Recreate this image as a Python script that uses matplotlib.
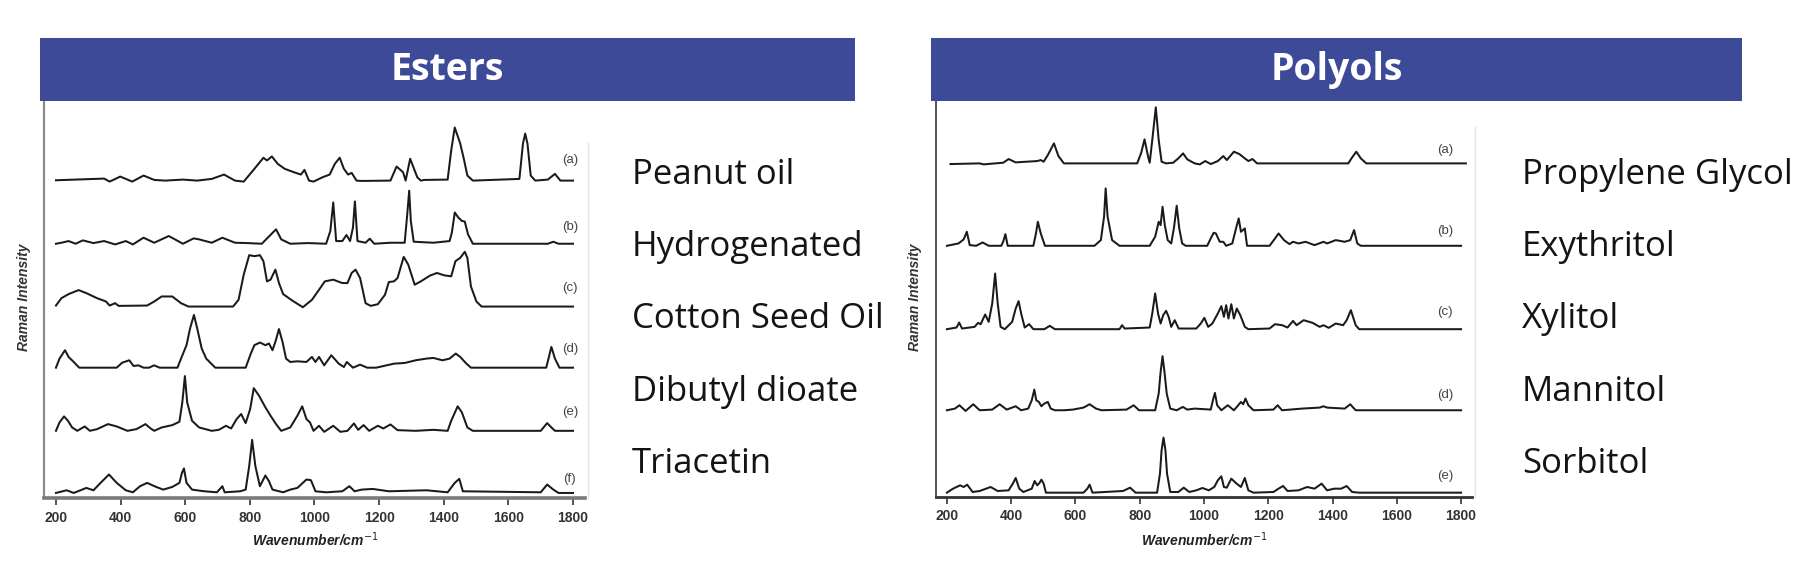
import matplotlib
matplotlib.use("Agg")
import matplotlib.pyplot as plt
from matplotlib.patches import Rectangle
from matplotlib.lines import Line2D

W, H = 1806, 574

# ---------------- data (wavenumber, relative intensity) ----------------
ester_names = ["Peanut oil", "Hydrogenated", "Cotton Seed Oil", "Dibutyl dioate", "Triacetin"]
ester_tags = ["(a)", "(b)", "(c)", "(d)", "(e)", "(f)"]
ester_offsets = [945, 757, 570, 388, 200, 15]

ester_a = [(200,1),(349,6),(366,-3),(399,12),(436,-3),(471,15),(504,2),(538,0),(593,3),(637,0),(682,5),(720,18),(754,0),(781,-3),(814,35),(842,68),(853,60),(868,72),(886,50),(908,35),(936,25),(958,18),(969,32),(983,0),(997,-3),(1025,10),(1047,18),(1063,50),(1078,68),(1091,35),(1104,18),(1115,23),(1130,0),(1146,-1),(1235,0),(1254,42),(1274,25),(1282,0),(1296,65),(1318,10),(1329,0),(1340,2),(1412,3),(1423,90),(1434,158),(1451,110),(1462,65),(1473,15),(1490,0),(1634,5),(1645,110),(1652,140),(1659,110),(1669,15),(1683,0),(1722,3),(1744,20),(1761,0),(1800,0)]
ester_b = [(200,0),(217,3),(239,8),(261,0),(283,10),(316,2),(349,8),(383,-2),(416,8),(438,-2),(471,18),(504,3),(549,23),(593,0),(626,16),(643,13),(682,3),(715,18),(754,3),(792,2),(837,0),(881,43),(897,13),(925,0),(980,2),(1036,0),(1049,38),(1058,123),(1067,8),(1086,8),(1099,26),(1110,8),(1119,48),(1125,126),(1133,8),(1158,3),(1171,15),(1185,0),(1235,3),(1279,3),(1287,88),(1293,158),(1298,68),(1307,6),(1368,3),(1418,8),(1425,33),(1434,93),(1445,78),(1456,68),(1465,66),(1475,28),(1490,0),(1722,0),(1739,6),(1755,0),(1800,0)]
ester_c = [(200,3),(217,25),(239,37),(270,49),(294,40),(327,25),(355,15),(366,3),(383,10),(394,2),(482,3),(504,15),(527,30),(560,30),(587,10),(610,0),(748,0),(765,20),(781,95),(798,153),(814,150),(831,153),(842,135),(853,75),(864,80),(879,110),(890,70),(903,37),(931,18),(964,-2),(992,20),(1014,50),(1032,75),(1058,80),(1086,70),(1102,70),(1115,100),(1127,110),(1141,85),(1158,10),(1174,2),(1196,7),(1218,35),(1230,73),(1246,75),(1257,85),(1276,148),(1290,125),(1310,65),(1329,75),(1357,92),(1379,100),(1401,93),(1423,90),(1436,135),(1451,145),(1465,163),(1473,145),(1484,60),(1501,15),(1517,0),(1800,0)]
ester_d = [(200,0),(211,27),(228,52),(239,32),(255,17),(272,0),(388,0),(405,15),(427,22),(440,5),(455,7),(471,0),(488,0),(504,7),(521,0),(576,0),(587,27),(604,67),(615,117),(627,157),(637,117),(651,57),(665,27),(693,0),(787,0),(803,42),(814,67),(831,75),(848,67),(859,72),(870,52),(879,77),(890,115),(901,77),(912,27),(925,17),(947,19),(975,17),(992,32),(1003,17),(1014,32),(1030,7),(1052,37),(1075,12),(1091,2),(1100,17),(1119,0),(1141,9),(1163,0),(1191,0),(1246,12),(1279,14),(1313,22),(1346,27),(1368,29),(1396,22),(1418,27),(1437,42),(1451,32),(1468,14),(1484,0),(1717,0),(1724,27),(1733,62),(1744,27),(1758,0),(1800,0)]
ester_e = [(200,0),(211,25),(225,43),(237,30),(250,10),(266,0),(289,13),(305,0),(327,5),(361,20),(388,13),(421,0),(449,5),(477,20),(493,7),(504,0),(527,10),(560,17),(582,27),(591,85),(599,163),(606,85),(621,30),(643,10),(682,0),(704,3),(726,15),(742,7),(759,35),(773,50),(787,23),(801,65),(812,127),(828,105),(848,70),(864,45),(881,20),(897,0),(925,10),(947,45),(962,73),(975,35),(986,25),(997,0),(1014,15),(1030,-3),(1058,15),(1080,-3),(1102,0),(1122,22),(1135,3),(1152,17),(1169,0),(1196,15),(1213,7),(1235,19),(1257,2),(1313,0),(1368,3),(1412,0),(1423,30),(1443,73),(1456,55),(1473,10),(1490,0),(1700,0),(1720,23),(1733,10),(1744,0),(1800,0)]
ester_f = [(200,0),(233,8),(255,0),(294,15),(316,8),(338,30),(364,55),(388,30),(416,8),(438,2),(460,20),(482,30),(510,18),(532,10),(560,18),(582,30),(590,60),(596,73),(604,30),(621,10),(659,5),(698,2),(715,20),(722,2),(770,5),(787,10),(798,80),(807,158),(817,80),(831,20),(848,52),(859,35),(870,10),(903,2),(925,10),(947,15),(975,40),(989,38),(1003,5),(1036,2),(1086,5),(1108,20),(1124,5),(1146,10),(1180,12),(1230,5),(1346,8),(1412,2),(1434,30),(1448,42),(1459,5),(1700,2),(1720,25),(1739,10),(1755,0),(1800,0)]
ester_tag_heights = [60, 50, 55, 57, 57, 42]

polyol_names = ["Propylene Glycol", "Exythritol", "Xylitol", "Mannitol", "Sorbitol"]
polyol_tags = ["(a)", "(b)", "(c)", "(d)", "(e)"]
polyol_offsets = [1000, 753, 503, 260, 13]

polyol_a = [(211,-2),(302,0),(314,-3),(375,2),(392,13),(414,3),(481,7),(492,10),(501,5),(514,25),(533,60),(547,22),(564,0),(792,0),(804,30),(815,72),(826,20),(831,2),(839,70),(850,168),(859,70),(868,5),(882,0),(904,2),(920,15),(935,30),(948,12),(971,0),(987,-3),(1004,7),(1021,-2),(1043,7),(1060,22),(1071,10),(1093,35),(1110,28),(1127,15),(1138,7),(1151,13),(1165,0),(1449,0),(1461,18),(1474,35),(1488,15),(1505,0),(1815,0)]
polyol_b = [(200,0),(236,7),(252,19),(262,42),(271,2),(291,0),(311,10),(330,0),(369,0),(375,12),(382,35),(389,0),(469,0),(477,37),(483,72),(492,37),(505,0),(659,0),(679,17),(689,87),(694,172),(700,87),(714,17),(737,0),(831,0),(848,27),(859,72),(865,62),(871,117),(878,62),(887,17),(898,7),(907,57),(915,120),(923,52),(932,7),(943,0),(1010,0),(1021,22),(1030,39),(1037,37),(1049,12),(1060,12),(1069,0),(1088,7),(1101,57),(1108,82),(1115,42),(1121,47),(1127,52),(1134,0),(1204,0),(1221,22),(1232,37),(1249,17),(1266,5),(1277,12),(1294,7),(1316,12),(1344,2),(1372,12),(1383,7),(1410,17),(1438,12),(1455,17),(1467,47),(1477,7),(1488,0),(1800,0)]
polyol_c = [(200,0),(230,5),(238,20),(247,2),(286,7),(297,19),(305,15),(319,44),(330,22),(341,77),(350,167),(358,77),(367,7),(380,0),(403,22),(414,62),(423,84),(431,47),(442,5),(456,15),(469,0),(503,0),(520,10),(536,0),(737,0),(745,12),(753,2),(831,5),(839,47),(848,107),(857,47),(865,17),(873,42),(882,55),(890,37),(898,7),(909,27),(921,2),(976,2),(990,17),(1001,34),(1013,7),(1026,17),(1043,47),(1054,69),(1062,37),(1069,72),(1076,32),(1085,75),(1093,32),(1102,62),(1113,42),(1127,7),(1138,0),(1204,2),(1221,15),(1243,12),(1260,5),(1277,25),(1288,12),(1310,27),(1338,19),(1360,7),(1372,12),(1388,4),(1410,17),(1433,12),(1444,27),(1457,57),(1472,12),(1483,0),(1800,0)]
polyol_d = [(200,0),(225,5),(239,15),(258,-2),(282,18),(302,0),(341,2),(364,18),(386,2),(414,12),(431,0),(453,5),(464,30),(472,62),(478,30),(486,25),(494,12),(503,20),(514,25),(523,5),(536,0),(564,0),(592,2),(625,8),(644,18),(664,5),(681,0),(759,2),(781,15),(798,0),(848,0),(859,50),(865,115),(871,162),(877,115),(884,50),(895,5),(915,0),(934,10),(948,2),(971,5),(1021,2),(1029,35),(1034,52),(1041,15),(1054,0),(1074,15),(1093,0),(1104,12),(1115,25),(1122,18),(1129,35),(1138,15),(1154,0),(1216,2),(1229,15),(1243,0),(1305,5),(1360,8),(1372,12),(1383,8),(1438,5),(1455,18),(1472,0),(1800,0)]
polyol_e = [(200,0),(219,12),(241,22),(252,17),(263,24),(280,2),(302,5),(336,17),(358,5),(392,7),(405,27),(414,44),(425,12),(438,2),(464,12),(473,35),(481,22),(488,29),(494,39),(501,27),(508,0),(625,0),(637,12),(644,24),(653,0),(748,5),(770,15),(787,0),(854,0),(863,57),(868,127),(874,165),(880,127),(885,57),(895,2),(920,2),(937,15),(954,2),(976,7),(995,14),(1015,7),(1032,17),(1043,37),(1054,49),(1062,17),(1071,15),(1085,42),(1099,29),(1115,17),(1127,44),(1138,7),(1154,0),(1216,2),(1232,12),(1246,20),(1260,5),(1294,7),(1321,17),(1344,12),(1366,27),(1383,7),(1405,12),(1427,12),(1444,20),(1461,2),(1483,0),(1800,0)]
polyol_tag_heights = [40, 44, 52, 45, 50]

xticks = [200, 400, 600, 800, 1000, 1200, 1400, 1600, 1800]

# ---------------- figure ----------------
fig = plt.figure(figsize=(W / 100, H / 100), dpi=100)
fig.patch.set_facecolor("white")

SMALL_FONT = "Liberation Sans"


def fbox(x0, y0, x1, y1):
    """pixel box (top-left origin) -> figure fraction rect"""
    return [x0 / W, 1 - y1 / H, (x1 - x0) / W, (y1 - y0) / H]


def panel(rect, xlim, ylim, spectra, offsets, tags, tag_heights, tag_x,
          lspine, bspine):
    ax = fig.add_axes(rect)
    ax.set_xlim(*xlim)
    ax.set_ylim(*ylim)
    for spec, off in zip(spectra, offsets):
        xs = [p[0] for p in spec]
        ys = [off + p[1] for p in spec]
        ax.plot(xs, ys, color="#1a1a1a", lw=1.45, solid_joinstyle="round")
    for t, off, th in zip(tags, offsets, tag_heights):
        ax.text(tag_x, off + th, t, ha="center", va="center",
                fontsize=9.5, color="#444444", family=SMALL_FONT)
    ax.spines["top"].set_visible(False)
    ax.spines["right"].set_visible(False)
    ax.spines["left"].set_color(lspine[0])
    ax.spines["left"].set_linewidth(lspine[1])
    ax.spines["bottom"].set_color(bspine[0])
    ax.spines["bottom"].set_linewidth(bspine[1])
    ax.set_yticks([])
    ax.set_xticks(xticks)
    ax.set_xticklabels([str(t) for t in xticks])
    ax.tick_params(axis="x", direction="out", length=5, width=1.3,
                   color="#444444", pad=4, labelsize=10, labelcolor="#333333")
    for lab in ax.get_xticklabels():
        lab.set_family(SMALL_FONT)
        lab.set_fontweight("bold")
    ax.set_facecolor("none")
    return ax


ax1 = panel(fbox(44, 101, 585, 498), (163, 1837), (0, 1182),
            [ester_a, ester_b, ester_c, ester_d, ester_e, ester_f],
            ester_offsets, ester_tags, ester_tag_heights, 1790,
            ("#8c8c8c", 1.6), ("#7a7a7a", 2.6))
ax2 = panel(fbox(936, 100, 1472, 497), (166, 1834), (0, 1190),
            [polyol_a, polyol_b, polyol_c, polyol_d, polyol_e],
            polyol_offsets, polyol_tags, polyol_tag_heights, 1750,
            ("#555555", 1.4), ("#333333", 2.0))

# faint right-hand frame lines
fig.add_artist(Line2D([588 / W, 588 / W], [1 - 143 / H, 1 - 498 / H],
                      color="#e6e6e6", lw=1.0))
fig.add_artist(Line2D([1475 / W, 1475 / W], [1 - 127 / H, 1 - 497 / H],
                      color="#e6e6e6", lw=1.0))

# axis labels
for cx in (315, 1204):
    fig.text(cx / W, 1 - 540 / H, "Wavenumber/cm$^{-1}$", ha="center", va="center",
             fontsize=10, style="italic", fontweight="bold", color="#222222",
             family=SMALL_FONT)
for cx in (24, 915):
    fig.text(cx / W, 1 - 297 / H, "Raman Intensity", ha="center", va="center",
             rotation=90, fontsize=10, style="italic", fontweight="bold",
             color="#333333", family=SMALL_FONT)

# banners
banner_color = "#3c4a98"
for (x0, x1, title) in ((40, 855, "Esters"), (931, 1742, "Polyols")):
    fig.add_artist(Rectangle((x0 / W, 1 - 101 / H), (x1 - x0) / W, 63 / H,
                             transform=fig.transFigure, facecolor=banner_color,
                             edgecolor="none"))
    fig.text((x0 + x1) / 2 / W, 1 - 70 / H, title, ha="center", va="center",
             fontsize=27, fontweight="bold", color="white", family="Open Sans")

# category names
baselines = [184, 256, 328, 401, 473]
for name, by in zip(ester_names, baselines):
    fig.text(632 / W, 1 - by / H, name, ha="left", va="baseline",
             fontsize=25, color="#141414", family="Open Sans")
for name, by in zip(polyol_names, baselines):
    fig.text(1522 / W, 1 - by / H, name, ha="left", va="baseline",
             fontsize=25, color="#141414", family="Open Sans")

fig.savefig("out.png", dpi=100, facecolor="white")
